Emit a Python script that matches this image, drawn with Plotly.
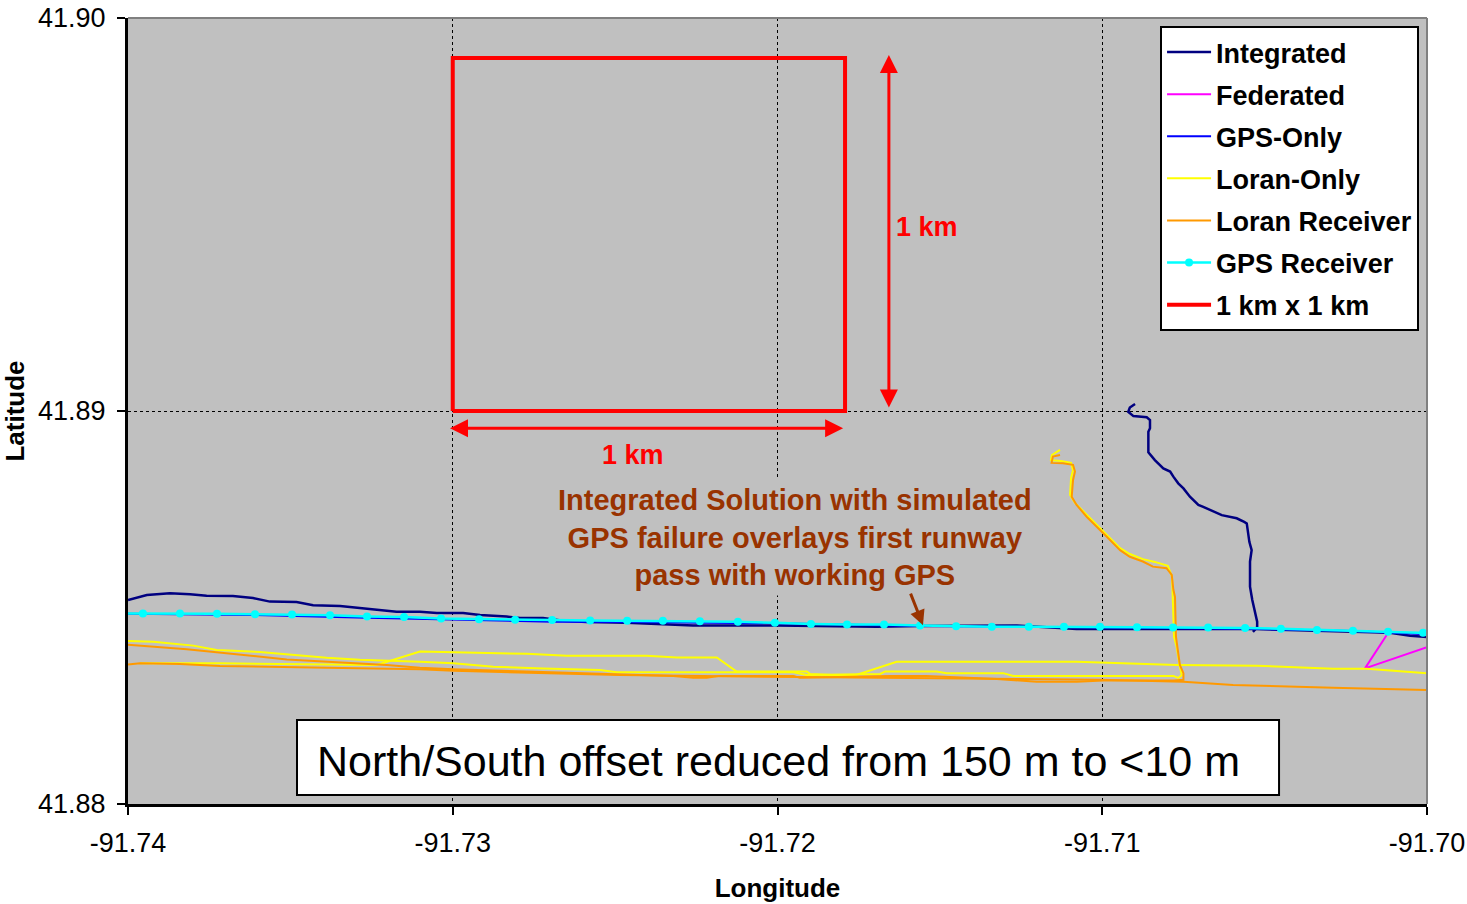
import plotly.graph_objects as go

# ---------------- data (longitude / latitude) ----------------
integrated_runway_lon = [-91.74000, -91.73942, -91.73871, -91.73809, -91.73758, -91.73677, -91.73615,
                         -91.73563, -91.73481, -91.73430, -91.73347, -91.73255, -91.73173, -91.73101,
                         -91.73049, -91.72968, -91.72916, -91.72834, -91.72793, -91.72722, -91.72661,
                         -91.72588, -91.72464, -91.72260, -91.72003, -91.71695, -91.71561, -91.71263,
                         -91.71079, -91.71007, -91.70530, -91.70114, -91.70052, -91.70000]
integrated_runway_lat = [41.88519, 41.88532, 41.88536, 41.88534, 41.88530, 41.88529, 41.88524,
                         41.88515, 41.88514, 41.88506, 41.88504, 41.88497, 41.88489, 41.88489,
                         41.88486, 41.88486, 41.88481, 41.88477, 41.88473, 41.88473, 41.88466,
                         41.88463, 41.88461, 41.88454, 41.88454, 41.88451, 41.88453, 41.88454,
                         41.88445, 41.88445, 41.88445, 41.88436, 41.88428, 41.88425]
integrated_taxi_lon = [-91.70899, -91.70915, -91.70920, -91.70904, -91.70863, -91.70853, -91.70853,
                       -91.70858, -91.70858, -91.70838, -91.70812, -91.70791, -91.70781, -91.70766,
                       -91.70750, -91.70730, -91.70704, -91.70689, -91.70632, -91.70586, -91.70563,
                       -91.70555, -91.70547, -91.70540, -91.70545, -91.70545, -91.70538, -91.70530,
                       -91.70523, -91.70523, -91.70536]
integrated_taxi_lat = [41.89018, 41.89009, 41.88998, 41.88987, 41.88984, 41.88977, 41.88956,
                       41.88947, 41.88895, 41.88875, 41.88854, 41.88846, 41.88833, 41.88816,
                       41.88803, 41.88782, 41.88761, 41.88756, 41.88735, 41.88727, 41.88718,
                       41.88714, 41.88667, 41.88646, 41.88617, 41.88553, 41.88519, 41.88489,
                       41.88464, 41.88450, 41.88438]

federated_lon = [-91.70124, -91.70191, -91.70000]
federated_lat = [41.88430, 41.88345, 41.88399]

gps_only_lon = [-91.74000, -91.73609, -91.73264, -91.72919, -91.72694, -91.72463, -91.72008,
                -91.71561, -91.71007, -91.70560, -91.70228, -91.70000]
gps_only_lat = [41.88484, 41.88481, 41.88474, 41.88467, 41.88464, 41.88463, 41.88460,
                41.88453, 41.88449, 41.88446, 41.88440, 41.88432]

loran_only_a_lon = [-91.74000, -91.73922, -91.73799, -91.73727, -91.73594, -91.73481, -91.73388,
                    -91.73286, -91.73203, -91.73101, -91.72998, -91.72875, -91.72721, -91.72547,
                    -91.72495, -91.71951, -91.71910, -91.71684, -91.71669, -91.71510, -91.71479,
                    -91.71305, -91.71274, -91.70781, -91.70766, -91.70755, -91.70761, -91.70771,
                    -91.70779, -91.70782, -91.70785, -91.70798, -91.70838, -91.70875, -91.70915,
                    -91.70945, -91.70988, -91.71019, -91.71050, -91.71084, -91.71099, -91.71096,
                    -91.71090, -91.71096, -91.71127, -91.71158, -91.71155, -91.71130]
loran_only_a_lat = [41.88415, 41.88413, 41.88403, 41.88392, 41.88387, 41.88378, 41.88372,
                    41.88367, 41.88365, 41.88362, 41.88358, 41.88349, 41.88345, 41.88341,
                    41.88335, 41.88335, 41.88328, 41.88331, 41.88337, 41.88337, 41.88333,
                    41.88333, 41.88326, 41.88326, 41.88321, 41.88328, 41.88349, 41.88400,
                    41.88425, 41.88527, 41.88578, 41.88606, 41.88616, 41.88623, 41.88636,
                    41.88651, 41.88687, 41.88712, 41.88738, 41.88766, 41.88786, 41.88830,
                    41.88850, 41.88868, 41.88873, 41.88875, 41.88888, 41.88901]
loran_only_b_lon = [-91.73963, -91.73717, -91.73388, -91.73234, -91.73101, -91.72916, -91.72772,
                    -91.72649, -91.72403, -91.72310, -91.72187, -91.72126, -91.71910, -91.71900,
                    -91.71767, -91.71633, -91.71079, -91.70771, -91.70524, -91.70289, -91.70186,
                    -91.70000]
loran_only_b_lat = [41.88358, 41.88358, 41.88355, 41.88354, 41.88388, 41.88385, 41.88382,
                    41.88377, 41.88377, 41.88373, 41.88373, 41.88337, 41.88337, 41.88331,
                    41.88326, 41.88362, 41.88362, 41.88354, 41.88352, 41.88344, 41.88344,
                    41.88333]

loran_rx_a_lon = [-91.74000, -91.73819, -91.73511, -91.73388, -91.73203, -91.73101, -91.72998,
                  -91.72772, -91.72516, -91.72321, -91.72259, -91.72218, -91.72177, -91.71951,
                  -91.71931, -91.71654, -91.71541, -91.71325, -91.71202, -91.71079, -91.70997,
                  -91.70781, -91.70750, -91.70750, -91.70761, -91.70766, -91.70769, -91.70773,
                  -91.70776, -91.70781, -91.70786, -91.70802, -91.70844, -91.70875, -91.70915,
                  -91.70945, -91.70986, -91.71017, -91.71048, -91.71079, -91.71094, -91.71090,
                  -91.71084, -91.71090, -91.71121, -91.71156, -91.71152, -91.71130]
loran_rx_a_lat = [41.88405, 41.88394, 41.88368, 41.88362, 41.88354, 41.88347, 41.88343,
                  41.88337, 41.88330, 41.88326, 41.88321, 41.88321, 41.88326, 41.88326,
                  41.88321, 41.88326, 41.88326, 41.88318, 41.88311, 41.88311, 41.88314,
                  41.88314, 41.88316, 41.88333, 41.88354, 41.88383, 41.88413, 41.88426,
                  41.88527, 41.88545, 41.88583, 41.88600, 41.88604, 41.88617, 41.88629,
                  41.88646, 41.88680, 41.88706, 41.88731, 41.88761, 41.88782, 41.88824,
                  41.88846, 41.88863, 41.88867, 41.88868, 41.88884, 41.88888]
loran_rx_b_lon = [-91.74000, -91.73963, -91.73840, -91.73717, -91.73388, -91.73101, -91.72998,
                  -91.72731, -91.72485, -91.71931, -91.71315, -91.71007, -91.70750, -91.70668,
                  -91.70597, -91.70289, -91.70000]
loran_rx_b_lat = [41.88355, 41.88358, 41.88356, 41.88351, 41.88347, 41.88343, 41.88339,
                  41.88333, 41.88328, 41.88323, 41.88318, 41.88316, 41.88311, 41.88307,
                  41.88303, 41.88296, 41.88290]

gps_rx_lon = [-91.74050, -91.73954, -91.73840, -91.73726, -91.73609, -91.73495, -91.73378, -91.73264,
              -91.73150, -91.73036, -91.72919, -91.72808, -91.72694, -91.72577, -91.72463,
              -91.72353, -91.72239, -91.72122, -91.72008, -91.71897, -91.71786, -91.71672,
              -91.71561, -91.71450, -91.71340, -91.71226, -91.71118, -91.71007, -91.70893,
              -91.70782, -91.70674, -91.70560, -91.70450, -91.70339, -91.70228, -91.70120,
              -91.70012, -91.69985]
gps_rx_lat = [41.88485, 41.88485, 41.88485, 41.88484, 41.88483, 41.88482, 41.88480, 41.88477,
              41.88476, 41.88472, 41.88470, 41.88469, 41.88468, 41.88467, 41.88466,
              41.88466, 41.88465, 41.88464, 41.88461, 41.88458, 41.88457, 41.88457,
              41.88454, 41.88452, 41.88451, 41.88451, 41.88451, 41.88451, 41.88450,
              41.88449, 41.88449, 41.88448, 41.88446, 41.88443, 41.88441, 41.88438,
              41.88436, 41.88435]

box_lon = [-91.73000, -91.71792, -91.71792, -91.73000, -91.73000]
box_lat = [41.89000, 41.89000, 41.89898, 41.89898, 41.89000]

x_ticks = [-91.74, -91.73, -91.72, -91.71, -91.70]
x_tick_labels = ["-91.74", "-91.73", "-91.72", "-91.71", "-91.70"]
y_ticks = [41.88, 41.89, 41.90]
y_tick_labels = ["41.88", "41.89", "41.90"]

# ---------------- styling ----------------
FONT = "Liberation Sans, Arial, sans-serif"
BROWN = "#993300"

fig = go.Figure()

def add_line(lon, lat, name, color, width=2, mode="lines", marker=None):
    fig.add_trace(go.Scatter(x=lon, y=lat, name=name, mode=mode, legendgroup=name,
                             line=dict(color=color, width=width), marker=marker,
                             hoverinfo="skip"))

add_line(integrated_runway_lon + [None] + integrated_taxi_lon,
         integrated_runway_lat + [None] + integrated_taxi_lat, "Integrated", "#000080", 2.5)
add_line(federated_lon, federated_lat, "Federated", "#FF00FF", 2)
add_line(gps_only_lon, gps_only_lat, "GPS-Only", "#0000FF", 2)
add_line(loran_only_a_lon + [None] + loran_only_b_lon,
         loran_only_a_lat + [None] + loran_only_b_lat, "Loran-Only", "#FFFF00", 2)
add_line(loran_rx_a_lon + [None] + loran_rx_b_lon,
         loran_rx_a_lat + [None] + loran_rx_b_lat, "Loran Receiver", "#FF9900", 2)
add_line(gps_rx_lon, gps_rx_lat, "GPS Receiver", "#00FFFF", 2.5, mode="lines+markers",
         marker=dict(color="#00FFFF", size=8, symbol="circle"))
add_line(box_lon, box_lat, "1 km x 1 km", "#FF0000", 4)

axis_common = dict(
    showline=True, linecolor="black", linewidth=3, mirror=False,
    ticks="outside", ticklen=8, tickwidth=2, tickcolor="black",
    showgrid=True, gridcolor="black", gridwidth=1, griddash="3px,3px",
    zeroline=False, automargin=False, tickfont=dict(family=FONT, size=27, color="black"),
)

fig.update_xaxes(range=[-91.74, -91.70], tickmode="array", tickvals=x_ticks, ticktext=x_tick_labels,
                 title=dict(text="<b>Longitude</b>", font=dict(family=FONT, size=26, color="black"),
                            standoff=22),
                 ticklabelstandoff=5, **axis_common)
fig.update_yaxes(range=[41.88, 41.90], tickmode="array", tickvals=y_ticks, ticktext=y_tick_labels,
                 title=dict(text="<b>Latitude</b>", font=dict(family=FONT, size=26, color="black"),
                            standoff=16),
                 ticklabelstandoff=6, **axis_common)

# grey top/right border of plot area
fig.add_shape(type="line", xref="paper", yref="paper", x0=0, x1=1, y0=1, y1=1,
              line=dict(color="#808080", width=2))
fig.add_shape(type="line", xref="paper", yref="paper", x0=1, x1=1, y0=0, y1=1,
              line=dict(color="#808080", width=2))

# text box at bottom
fig.add_shape(type="rect", xref="paper", yref="paper", x0=0.1301, x1=0.8861, y0=0.0115, y1=0.1069,
              line=dict(color="black", width=2), fillcolor="white", layer="above")
fig.add_annotation(xref="paper", yref="paper", x=0.1440, y=0.0553, xanchor="left", yanchor="middle",
                   text="North/South offset reduced from 150 m to <10 m", showarrow=False,
                   font=dict(family=FONT, size=43, color="black"))

# 1 km arrows and labels
arrow_h = dict(lon0=-91.73013, lon1=-91.71798, lat=41.88956)
arrow_v = dict(lon=-91.71657, lat0=41.89005, lat1=41.89906)
fig.add_annotation(xref="x", yref="y", axref="x", ayref="y",
                   x=arrow_h["lon1"], y=arrow_h["lat"], ax=arrow_h["lon0"], ay=arrow_h["lat"],
                   text="", showarrow=True, arrowhead=2, startarrowhead=2, arrowside="end+start",
                   arrowsize=1.2, startarrowsize=1.2, arrowwidth=3, arrowcolor="#FF0000",
                   standoff=0, startstandoff=0)
fig.add_annotation(xref="x", yref="y", axref="x", ayref="y",
                   x=arrow_v["lon"], y=arrow_v["lat1"], ax=arrow_v["lon"], ay=arrow_v["lat0"],
                   text="", showarrow=True, arrowhead=2, startarrowhead=2, arrowside="end+start",
                   arrowsize=1.2, startarrowsize=1.2, arrowwidth=3, arrowcolor="#FF0000",
                   standoff=0, startstandoff=0)
fig.add_annotation(xref="x", yref="y", x=-91.72445, y=41.88888, text="<b>1 km</b>", showarrow=False,
                   font=dict(family=FONT, size=27, color="#FF0000"))
fig.add_annotation(xref="x", yref="y", x=-91.71540, y=41.89468, text="<b>1 km</b>", showarrow=False,
                   font=dict(family=FONT, size=27, color="#FF0000"))

# explanatory note with arrow
fig.add_annotation(xref="x", yref="y", x=-91.71946, y=41.88679,
                   text="<b>Integrated Solution with simulated<br>GPS failure overlays first runway<br>"
                        "pass with working GPS</b>",
                   showarrow=False, align="center", bgcolor="#C0C0C0", borderpad=4,
                   font=dict(family=FONT, size=29, color=BROWN))
fig.add_annotation(xref="x", yref="y", axref="x", ayref="y",
                   x=-91.71552, y=41.88455, ax=-91.71592, ay=41.88539,
                   text="", showarrow=True, arrowhead=2, arrowsize=1, arrowwidth=3,
                   arrowcolor=BROWN, standoff=0)

fig.update_layout(
    width=1467, height=904,
    margin=dict(l=128, r=40, t=18, b=100),
    paper_bgcolor="white", plot_bgcolor="#C0C0C0",
    font=dict(family=FONT, color="black"),
    showlegend=True,
    legend=dict(x=0.7945, y=0.9898, xanchor="left", yanchor="top",
                bgcolor="white", bordercolor="black", borderwidth=2,
                font=dict(family=FONT, size=27, color="black", weight="bold"),
                traceorder="grouped", tracegroupgap=4, itemwidth=44),
)

fig.write_html("out.html")
